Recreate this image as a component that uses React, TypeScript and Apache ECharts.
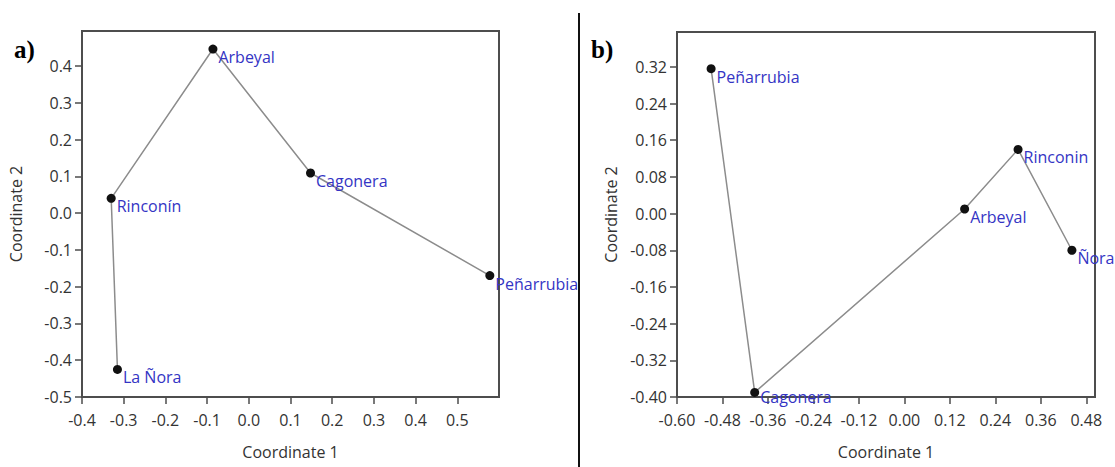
import React, { useEffect, useRef } from "react";
import * as echarts from "echarts";

// Panel a) — ordination of sites
const sitesA = ["La Ñora", "Rinconín", "Arbeyal", "Cagonera", "Peñarrubia"];
const coord1A = [-0.315, -0.33, -0.086, 0.148, 0.578];
const coord2A = [-0.425, 0.04, 0.446, 0.109, -0.17];

// Panel b)
const sitesB = ["Peñarrubia", "Cagonera", "Arbeyal", "Rinconin", "Ñora"];
const coord1B = [-0.51, -0.395, 0.159, 0.3, 0.442];
const coord2B = [0.316, -0.39, 0.01, 0.14, -0.08];

// Tick values
const xTicksA = [-0.4, -0.3, -0.2, -0.1, 0.0, 0.1, 0.2, 0.3, 0.4, 0.5];
const yTicksA = [-0.5, -0.4, -0.3, -0.2, -0.1, 0.0, 0.1, 0.2, 0.3, 0.4];
const xTicksB = [-0.6, -0.48, -0.36, -0.24, -0.12, 0.0, 0.12, 0.24, 0.36, 0.48];
const yTicksB = [-0.4, -0.32, -0.24, -0.16, -0.08, 0.0, 0.08, 0.16, 0.24, 0.32];

const FONT = "'Open Sans', 'Noto Sans', sans-serif";
const AXIS_COLOR = "#4d4d4d";
const LABEL_BLUE = "#3434c4";

function valueAxis(
  gridIndex: number,
  min: number,
  max: number,
  ticks: number[],
  digits: number,
  name: string,
  nameGap: number,
  labelMargin: number
) {
  return {
    type: "value" as const,
    gridIndex,
    min,
    max,
    name,
    nameLocation: "middle" as const,
    nameGap,
    nameTextStyle: { color: "#333", fontSize: 16, fontFamily: FONT },
    splitLine: { show: false },
    axisLine: { show: true, onZero: false, lineStyle: { color: AXIS_COLOR, width: 2 } },
    axisTick: {
      show: true,
      length: 7,
      customValues: ticks,
      lineStyle: { color: AXIS_COLOR, width: 1.5 },
    },
    axisLabel: {
      customValues: ticks,
      color: "#333",
      fontSize: 16,
      fontFamily: FONT,
      margin: labelMargin,
      formatter: (v: number) => v.toFixed(digits),
    },
  };
}

function siteSeries(
  index: number,
  sites: string[],
  c1: number[],
  c2: number[]
) {
  return {
    type: "line" as const,
    xAxisIndex: index,
    yAxisIndex: index,
    data: sites.map((s, i) => {
      // a point sitting on the bottom axis gets its label tucked a little higher
      const nearBottom = c2[i] < -0.38 && index === 1;
      return nearBottom
        ? { name: s, value: [c1[i], c2[i]], label: { offset: [0, 5] } }
        : { name: s, value: [c1[i], c2[i]] };
    }),
    symbol: "circle",
    symbolSize: 9,
    itemStyle: { color: "#111" },
    lineStyle: { color: "#8c8c8c", width: 1.5 },
    label: {
      show: true,
      position: "right" as const,
      distance: 1,
      offset: [0, 8],
      formatter: "{b}",
      color: LABEL_BLUE,
      fontSize: 16,
      lineHeight: 16,
      fontFamily: FONT,
    },
    z: 3,
  };
}

export default function App() {
  const ref = useRef<HTMLDivElement>(null);

  useEffect(() => {
    document.body.style.margin = "0";
    const chart = echarts.init(ref.current!, null, { renderer: "svg" });
    chart.setOption({
      animation: false,
      backgroundColor: "#fff",
      grid: [
        {
          left: 82,
          top: 31,
          width: 417,
          height: 366,
          show: true,
          borderColor: AXIS_COLOR,
          borderWidth: 2,
        },
        {
          left: 677,
          top: 32,
          width: 418,
          height: 365,
          show: true,
          borderColor: AXIS_COLOR,
          borderWidth: 2,
        },
      ],
      xAxis: [
        valueAxis(0, -0.4, 0.6, xTicksA, 1, "Coordinate 1", 47, 15),
        valueAxis(1, -0.6, 0.503, xTicksB, 2, "Coordinate 1", 47, 15),
      ],
      yAxis: [
        valueAxis(0, -0.5, 0.495, yTicksA, 1, "Coordinate 2", 58, 10),
        valueAxis(1, -0.4, 0.396, yTicksB, 2, "Coordinate 2", 58, 10),
      ],
      series: [
        siteSeries(0, sitesA, coord1A, coord2A),
        siteSeries(1, sitesB, coord1B, coord2B),
      ],
      graphic: [
        {
          type: "line",
          shape: { x1: 579, y1: 13, x2: 579, y2: 467 },
          style: { stroke: "#111", lineWidth: 2 },
        },
        {
          type: "text",
          left: 14,
          top: 37,
          style: {
            text: "a)",
            font: "bold 25px 'Liberation Serif', serif",
            fill: "#000",
          },
        },
        {
          type: "text",
          left: 591,
          top: 37,
          style: {
            text: "b)",
            font: "bold 25px 'Liberation Serif', serif",
            fill: "#000",
          },
        },
      ],
    });
    return () => chart.dispose();
  }, []);

  return <div ref={ref} style={{ width: 1115, height: 467 }} />;
}
